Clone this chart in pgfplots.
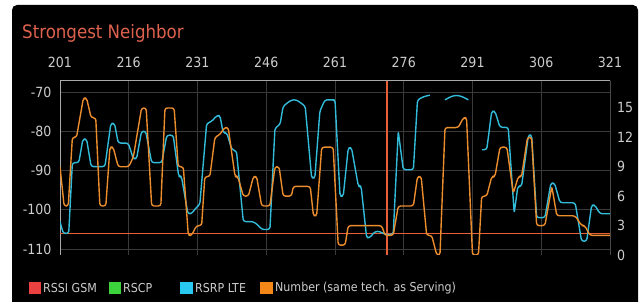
\documentclass[border=0pt]{standalone}
\usepackage{pgfplots}
\pgfplotsset{compat=1.18}
\usepackage{fontspec}
\setmainfont{DejaVu Sans Condensed}
\definecolor{lte}{RGB}{50,188,218}
\definecolor{num}{RGB}{235,140,45}
\definecolor{markc}{RGB}{230,95,55}
\definecolor{titlec}{RGB}{222,98,78}
\definecolor{lbl}{RGB}{205,205,205}
\definecolor{gridc}{RGB}{58,58,58}
\definecolor{framec}{RGB}{170,170,170}
\definecolor{lgsm}{RGB}{235,65,65}
\definecolor{lrscp}{RGB}{60,210,60}
\definecolor{llte}{RGB}{40,200,240}
\definecolor{lnum}{RGB}{245,135,25}
\begin{document}
\begin{tikzpicture}
\useasboundingbox (0pt,0pt) rectangle (640pt,302pt);
\fill[white] (0pt,0pt) rectangle (640pt,302pt);
\fill[black,rounded corners=5pt] (12pt,-6pt) rectangle (638pt,297pt);
\node[anchor=base west,text=titlec,font=\fontsize{18.5}{22}\selectfont,inner sep=0pt] at (22pt,263pt) {Strongest Neighbor};
% left axis (RSRP, dBm)
\begin{axis}[
  at={(60pt,47pt)}, anchor=south west, scale only axis, width=550pt, height=174pt,
  xmin=201, xmax=321, ymin=-111.5, ymax=-67.2,
  axis line style={draw=none},
  major tick length=0pt, tick align=inside,
  xtick={201,216,231,246,261,276,291,306,321},
  xticklabels={201,216,231,246,261,276,291,306,321},
  xticklabel pos=upper,
  ytick={-110,-100,-90,-80,-70},
  yticklabels={-110,-100,-90,-80,-70},
  ticklabel style={text=lbl,font=\fontsize{14}{16}\selectfont},
  xticklabel style={anchor=center,yshift=19pt},
  yticklabel style={anchor=east,xshift=-5pt},
  grid=major, major grid style={gridc,line width=0.8pt},
  unbounded coords=jump,
]
\draw[framec,line width=1pt] (rel axis cs:0,0) -- (rel axis cs:0,1) -- (rel axis cs:1,1) -- (rel axis cs:1,0);
\addplot[markc,line width=1.3pt] coordinates {(201,-106.1) (321,-106.1)};
\addplot[markc,line width=1.3pt] coordinates {(272.35,-111.5) (272.35,-67.2)};
\addplot[lte,line width=1.4pt,line join=round,rounded corners=2.5pt] coordinates {
(201,-103) (201.7,-106) (202.9,-106) (203.7,-88) (205.1,-88) (206.0,-82) (206.8,-82) (207.8,-89) (210.8,-89) (212.1,-78) (212.9,-78) (213.7,-83) (215.9,-83) (217.0,-87) (217.7,-87) (218.8,-80) (219.7,-80) (221.0,-88) (223.2,-88) (224.3,-81) (225.7,-81) (226.9,-91.5) (227.5,-91.5) (228.9,-101) (229.7,-101) (230.8,-99.3) (231.5,-98.7) (233.0,-78) (234.1,-77.5) (235.2,-76) (235.9,-76) (236.6,-80.4) (237.4,-80.4) (238.5,-84.7) (239.5,-85) (241.0,-103) (243.2,-103) (244.3,-104) (245.0,-105) (246.8,-105) (247.9,-79.2) (249.0,-78.3) (249.7,-73.6) (251.5,-72) (252.6,-72) (254.5,-73.6) (255.9,-91.9) (256.6,-91.9) (257.7,-74.9) (258.8,-72) (260.3,-72) (261.0,-72) (262.1,-96.5) (262.8,-96.5) (263.9,-84.2) (264.6,-84.2) (266.1,-94) (266.7,-94) (267.9,-107.1) (268.6,-107.1) (269.7,-105.5) (270.8,-105.5) (271.9,-106.3) (273.7,-106.3) (274.8,-80) (275.9,-89.8) (278.1,-89.8) (279.0,-72) (280.3,-71.2) (281.7,-70.8) (282.5,nan) (285.0,-72) (286.2,-71.2) (287.5,-70.8) (288.8,-71.2) (290.1,-72) (291.5,nan) (293.1,-84.7) (294.1,-84.7) (295.2,-74.9) (295.9,-74.9) (297.0,-79) (298.8,-79) (300.1,-100.8) (300.9,-94) (301.7,-94) (303.2,-81) (303.9,-81) (305.0,-102) (306.8,-102) (308.1,-93.2) (308.9,-93.2) (310.1,-98.2) (313.4,-98.2) (314.8,-108) (315.9,-108) (317.0,-98.8) (317.7,-98.8) (318.8,-101) (321,-101)
};
\end{axis}
% right axis (Number)
\begin{axis}[
  at={(60pt,47pt)}, anchor=south west, scale only axis, width=550pt, height=174pt,
  xmin=201, xmax=321, ymin=0, ymax=17.75,
  axis line style={draw=none},
  major tick length=0pt, tick align=inside,
  xtick=\empty,
  ytick={0,3,6,9,12,15},
  yticklabels={0,3,6,9,12,15},
  yticklabel pos=right,
  ticklabel style={text=lbl,font=\fontsize{14}{16}\selectfont},
  yticklabel style={anchor=west,xshift=3.5pt},
]
\addplot[num,line width=1.4pt,line join=round,rounded corners=2.5pt] coordinates {
(201,9) (201.9,5) (202.8,5) (203.7,12) (204.6,12) (206.1,16) (206.8,16) (207.8,14) (208.8,14) (209.7,5) (211.0,5) (211.9,11) (212.6,11) (213.7,9) (216.0,9) (217.0,10) (218.8,15) (219.8,15) (221.0,5) (223.0,5) (223.9,15) (225.9,15) (226.8,9) (227.9,9) (229.0,2) (229.7,2) (230.8,3) (231.9,3) (232.6,8) (233.7,8) (234.8,12) (235.9,12.3) (236.9,13) (237.7,13) (239.2,8) (239.8,8) (241.0,6) (242.1,6) (243.2,8) (243.9,8) (245.0,5) (246.8,5) (247.9,9) (248.8,9) (249.7,6) (251.5,6) (251.9,7) (255.6,7) (256.3,4) (257.0,4) (258.1,11) (260.6,11) (261.7,1) (263.2,1) (263.9,3) (271.2,3) (271.9,2) (273.7,2) (274.8,5) (278.1,5) (279.0,8) (279.8,8) (281.0,2) (282.1,2) (283.2,0) (283.9,0) (285.0,13) (287.9,13) (289.0,14) (289.7,14) (291.0,0) (292.3,0) (293.0,6) (294.1,6) (295.2,8) (295.9,8) (297.0,11) (298.5,11) (299.9,6.3) (301.0,8) (301.7,8) (303.0,12) (303.9,12) (305.0,3) (306.8,3) (308.3,7) (309.4,4) (313.4,4) (314.8,3) (315.5,3) (316.6,2) (321,2)
};
\end{axis}
% legend
\begin{scope}[font=\fontsize{12.3}{14}\selectfont]
\fill[lgsm] (29pt,7.5pt) rectangle (41pt,19.5pt);
\node[anchor=west,text=lbl,inner sep=0pt] at (43pt,13.5pt) {RSSI GSM};
\fill[lrscp] (109pt,7.5pt) rectangle (121pt,19.5pt);
\node[anchor=west,text=lbl,inner sep=0pt] at (123pt,13.5pt) {RSCP};
\fill[llte] (180pt,7.5pt) rectangle (192.5pt,19.5pt);
\node[anchor=west,text=lbl,inner sep=0pt] at (195pt,13.5pt) {RSRP LTE};
\fill[lnum] (260pt,7.5pt) rectangle (272.5pt,19.5pt);
\node[anchor=west,text=lbl,inner sep=0pt] at (275pt,13.5pt) {Number (same tech. as Serving)};
\end{scope}
\end{tikzpicture}
\end{document}
